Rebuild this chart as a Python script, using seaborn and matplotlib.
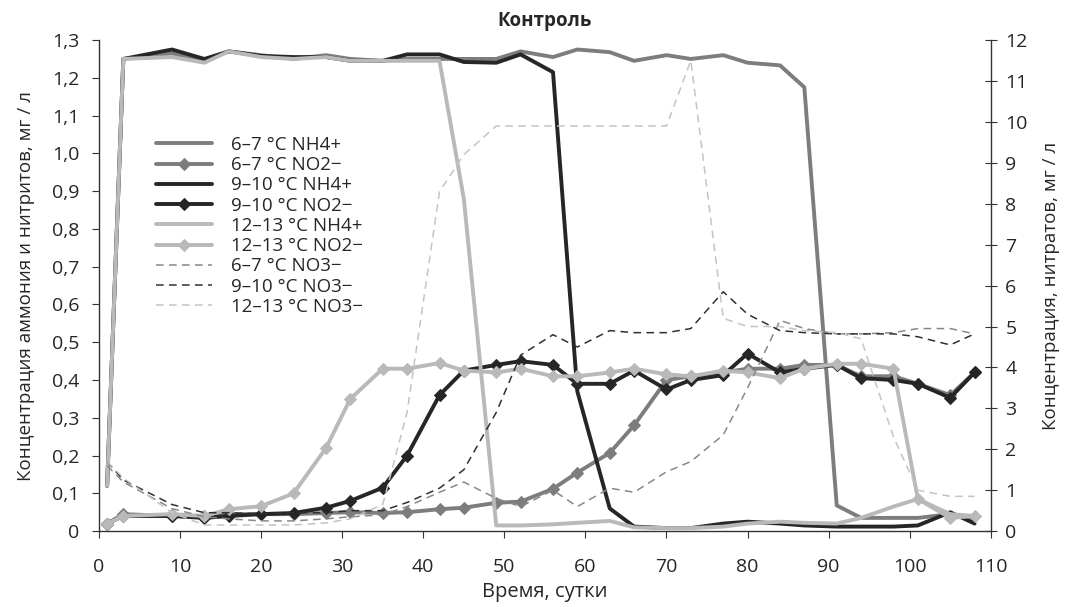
import numpy as np
import pandas as pd
import matplotlib
matplotlib.use("Agg")
import matplotlib.pyplot as plt
import seaborn as sns

# sampling days
days = [1, 3, 9, 13, 16, 20, 24, 28, 31, 35, 38, 42, 45, 49, 52, 56, 59, 63, 66, 70,
        73, 77, 80, 84, 87, 91, 94, 98, 101, 105, 108]

# ammonium, mg/l (left axis)
nh4_6_7 = [0.12, 1.25, 1.265, 1.245, 1.27, 1.26, 1.25, 1.26, 1.25, 1.245, 1.25, 1.25, 1.25, 1.25,
           1.27, 1.255, 1.275, 1.268, 1.245, 1.26, 1.25, 1.26, 1.24, 1.233, 1.175, 0.068, 0.035,
           0.035, 0.035, 0.045, 0.03]
nh4_9_10 = [0.12, 1.25, 1.275, 1.25, 1.27, 1.258, 1.255, 1.255, 1.245, 1.245, 1.262, 1.262, 1.242,
            1.24, 1.262, 1.215, 0.37, 0.06, 0.012, 0.008, 0.008, 0.02, 0.025, 0.02, 0.015, 0.012,
            0.012, 0.012, 0.015, 0.05, 0.02]
nh4_12_13 = [0.12, 1.25, 1.255, 1.24, 1.27, 1.255, 1.25, 1.255, 1.245, 1.245, 1.245, 1.245, 0.88,
             0.015, 0.015, 0.018, 0.022, 0.027, 0.01, 0.008, 0.008, 0.012, 0.02, 0.025, 0.022,
             0.02, 0.035, 0.065, 0.085, 0.045, 0.04]

# nitrites, mg/l (left axis)
no2_6_7 = [0.02, 0.045, 0.04, 0.04, 0.045, 0.045, 0.045, 0.048, 0.05, 0.048, 0.05, 0.058, 0.062,
           0.075, 0.078, 0.112, 0.155, 0.207, 0.28, 0.40, 0.41, 0.42, 0.43, 0.43, 0.44, 0.44,
           0.41, 0.41, 0.39, 0.36, 0.42]
no2_9_10 = [0.02, 0.04, 0.04, 0.035, 0.04, 0.045, 0.048, 0.062, 0.08, 0.115, 0.20, 0.36, 0.425,
            0.44, 0.45, 0.44, 0.39, 0.39, 0.425, 0.375, 0.40, 0.413, 0.47, 0.42, 0.43, 0.44,
            0.405, 0.40, 0.39, 0.353, 0.42]
no2_12_13 = [0.02, 0.04, 0.045, 0.04, 0.058, 0.066, 0.10, 0.22, 0.35, 0.43, 0.43, 0.445, 0.425,
             0.42, 0.43, 0.41, 0.41, 0.42, 0.43, 0.415, 0.41, 0.425, 0.42, 0.405, 0.43, 0.443,
             0.443, 0.43, 0.085, 0.035, 0.04]

# nitrates, mg/l (right axis)
no3_6_7 = [1.6, 1.2, 0.55, 0.35, 0.3, 0.25, 0.25, 0.3, 0.35, 0.4, 0.6, 0.95, 1.2, 0.8, 0.6, 1.0,
           0.6, 1.05, 0.95, 1.45, 1.7, 2.35, 3.5, 5.15, 4.95, 4.82, 4.82, 4.85, 4.95, 4.95, 4.82]
no3_9_10 = [1.7, 1.25, 0.65, 0.45, 0.45, 0.42, 0.45, 0.45, 0.5, 0.5, 0.7, 1.05, 1.5, 2.9, 4.3,
            4.8, 4.5, 4.9, 4.85, 4.85, 4.95, 5.85, 5.3, 4.9, 4.85, 4.82, 4.82, 4.82, 4.75, 4.55,
            4.82]
no3_12_13 = [1.7, 1.3, 0.45, 0.15, 0.15, 0.15, 0.15, 0.2, 0.3, 0.65, 2.9, 8.3, 9.2, 9.9, 9.9, 9.9,
             9.9, 9.9, 9.9, 9.9, 11.5, 5.2, 5.0, 5.0, 4.9, 4.85, 4.7, 2.3, 1.0, 0.85, 0.85]

labels_left = ["6–7 °C NH4+", "6–7 °C NO2−", "9–10 °C NH4+", "9–10 °C NO2−",
               "12–13 °C NH4+", "12–13 °C NO2−"]
labels_right = ["6–7 °C NO3−", "9–10 °C NO3−", "12–13 °C NO3−"]

sns.set_style("ticks")
plt.rcParams['font.family'] = ['Open Sans', 'DejaVu Sans']

c_mid, c_dark, c_light = '#7d7d7d', '#262626', '#b9b9b9'

fig = plt.figure(figsize=(10.68, 6.07), dpi=100)
ax = fig.add_axes([0.0927, 0.125, 0.835, 0.809])
ax2 = ax.twinx()

left_series = [nh4_6_7, no2_6_7, nh4_9_10, no2_9_10, nh4_12_13, no2_12_13]
left_colors = [c_mid, c_mid, c_dark, c_dark, c_light, c_light]
for vals, col, lab in zip(left_series, left_colors, labels_left):
    mk = 'D' if 'NO2' in lab else None
    sns.lineplot(x=days, y=vals, ax=ax, color=col, linewidth=2.8, marker=mk,
                 markersize=6, markeredgecolor=col, label=lab, legend=False)

right_series = [no3_6_7, no3_9_10, no3_12_13]
right_colors = ['#888888', '#303030', '#c4c4c4']
for vals, col, lab in zip(right_series, right_colors, labels_right):
    sns.lineplot(x=days, y=vals, ax=ax2, color=col, linewidth=1.1, dashes=False,
                 linestyle=(0, (5, 3.5)), label=lab, legend=False)

ax.set_xlim(0, 110)
ax.set_ylim(0, 1.3)
ax2.set_ylim(0, 12)
ax.set_xticks(range(0, 111, 10))
yt = [round(0.1 * i, 1) for i in range(14)]
ax.set_yticks(yt)
ax.set_yticklabels(['0' if v == 0 else f"{v:.1f}".replace('.', ',') for v in yt])
ax2.set_yticks(range(0, 13))

for a in (ax, ax2):
    a.spines['top'].set_visible(False)
    for s in a.spines.values():
        s.set_color('#333333')
        s.set_linewidth(1.0)
ax.spines['right'].set_visible(False)
ax2.spines['left'].set_visible(False)
ax2.spines['bottom'].set_visible(False)

ax.tick_params(axis='x', labelsize=14, length=5, color='#333333', direction='out', pad=14)
ax.tick_params(axis='y', labelsize=14, length=5, color='#333333', direction='out', pad=9)
ax2.tick_params(axis='y', labelsize=14, length=9, color='#333333', direction='inout', pad=6)

ax.set_xlabel("Время, сутки", fontsize=14.5, labelpad=5)
ax.set_ylabel("Концентрация аммония и нитритов, мг / л", fontsize=13.5, labelpad=12)
ax2.set_ylabel("Концентрация, нитратов, мг / л", fontsize=13.5, labelpad=10)
ax.set_title("Контроль", fontsize=13.5, fontweight='bold', pad=10)

h1, l1 = ax.get_legend_handles_labels()
h2, l2 = ax2.get_legend_handles_labels()
ax2.legend(h1 + h2, l1 + l2, loc='upper left', bbox_to_anchor=(0.055, 0.82),
           frameon=False, fontsize=13.5, handlelength=3.0, handletextpad=1.0,
           labelspacing=0.12, borderaxespad=0, numpoints=1)

fig.savefig("out.png", dpi=100)
